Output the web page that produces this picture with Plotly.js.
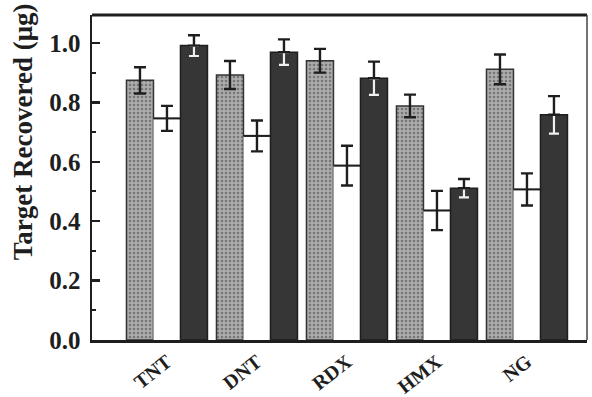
<!DOCTYPE html>
<html><head><meta charset="utf-8">
<script src="https://cdn.plot.ly/plotly-3.0.1.min.js"></script>
<style>html,body{margin:0;padding:0;background:#fff}#chart{width:592px;height:397px}</style>
</head><body><div id="chart"></div>
<script>
const categories = ['TNT','DNT','RDX','HMX','NG'];
const seriesA = [0.874, 0.892, 0.940, 0.788, 0.911];   // light stippled
const errA    = [0.044, 0.047, 0.040, 0.038, 0.050];
const seriesB = [0.746, 0.687, 0.587, 0.436, 0.507];   // white
const errB    = [0.042, 0.052, 0.067, 0.066, 0.054];
const seriesC = [0.991, 0.969, 0.881, 0.511, 0.758];   // dark
const errC    = [0.035, 0.043, 0.056, 0.031, 0.063];
const yTicks  = [0, 0.2, 0.4, 0.6, 0.8, 1.0];
const yTitle  = 'Target Recovered (\u03bcg)';

const zeros = categories.map(() => 0);
const ink = '#1e1e1e';
const topLine = 0.007;

const traces = [
  { type:'bar', x:categories, y:seriesA, offsetgroup:'a',
    marker:{color:'#9e9e9e', line:{color:'#333', width:1.5},
      pattern:{shape:'.', fgcolor:'#767676', bgcolor:'#ababab', size:4, solidity:0.3}},
    error_y:{type:'data', array:errA, visible:true, color:ink, thickness:2.4, width:6} },
  { type:'bar', x:categories, y:seriesB, offsetgroup:'b',
    marker:{color:'#ffffff', line:{width:0}},
    error_y:{type:'data', array:errB, visible:true, color:ink, thickness:2.4, width:6} },
  { type:'bar', x:categories, y:seriesB.map(() => topLine), base:seriesB.map(v => v - topLine/2),
    offsetgroup:'b', marker:{color:ink, line:{width:0}} },
  { type:'bar', x:categories, y:seriesC, offsetgroup:'c',
    marker:{color:'#363636', line:{color:'#1e1e1e', width:1.5}} },
  { type:'bar', x:categories, y:seriesC.map(() => 0), base:seriesC, offsetgroup:'c',
    marker:{color:'rgba(0,0,0,0)', line:{width:0}},
    error_y:{type:'data', symmetric:false, array:zeros, arrayminus:errC, visible:true, color:'#f0f0f0', thickness:2.2, width:5} },
  { type:'bar', x:categories, y:seriesC.map(() => 0), base:seriesC, offsetgroup:'c',
    marker:{color:'rgba(0,0,0,0)', line:{width:0}},
    error_y:{type:'data', symmetric:false, array:errC, arrayminus:zeros, visible:true, color:ink, thickness:2.4, width:6} }
];

const serif = '"Liberation Serif", "Times New Roman", serif';
const layout = {
  width:592, height:397, showlegend:false,
  paper_bgcolor:'#fff', plot_bgcolor:'#fff',
  margin:{l:92, r:5, t:15, b:57},
  barmode:'group', bargap:0.1, bargroupgap:0,
  font:{family:serif, color:ink},
  xaxis:{ type:'category', range:[-0.833, 4.667], showline:true, linewidth:2.5, linecolor:ink,
    automargin:false, ticks:'', tickangle:-38,
    tickfont:{family:serif, size:20, weight:'bold', color:ink}, fixedrange:true },
  yaxis:{ range:[0, 1.094], tickvals:yTicks, ticktext:yTicks.map(v => v.toFixed(1)),
    automargin:false, ticklabelstandoff:4,
    showline:true, linewidth:2.5, linecolor:ink, showgrid:false, zeroline:false,
    ticks:'inside', ticklen:8, tickwidth:2.5, tickcolor:ink,
    minor:{dtick:0.1, tick0:0, ticks:'inside', ticklen:4, tickwidth:2, tickcolor:ink, showgrid:false},
    tickfont:{family:serif, size:25, weight:'bold', color:ink} },
  annotations:[
    {text:yTitle, xref:'paper', yref:'paper', x:-0.139, y:0.64, xanchor:'center', yanchor:'middle',
     textangle:-90, showarrow:false, font:{family:serif, size:27, weight:'bold', color:ink}}
  ],
  shapes:[
    {type:'line', xref:'paper', yref:'paper', x0:0, x1:1, y0:1, y1:1, line:{color:ink, width:3}},
    {type:'line', xref:'paper', yref:'paper', x0:1, x1:1, y0:0, y1:1, line:{color:'#444', width:1.5}}
  ]
};
Plotly.newPlot('chart', traces, layout, {staticPlot:true, displayModeBar:false});
</script></body></html>
